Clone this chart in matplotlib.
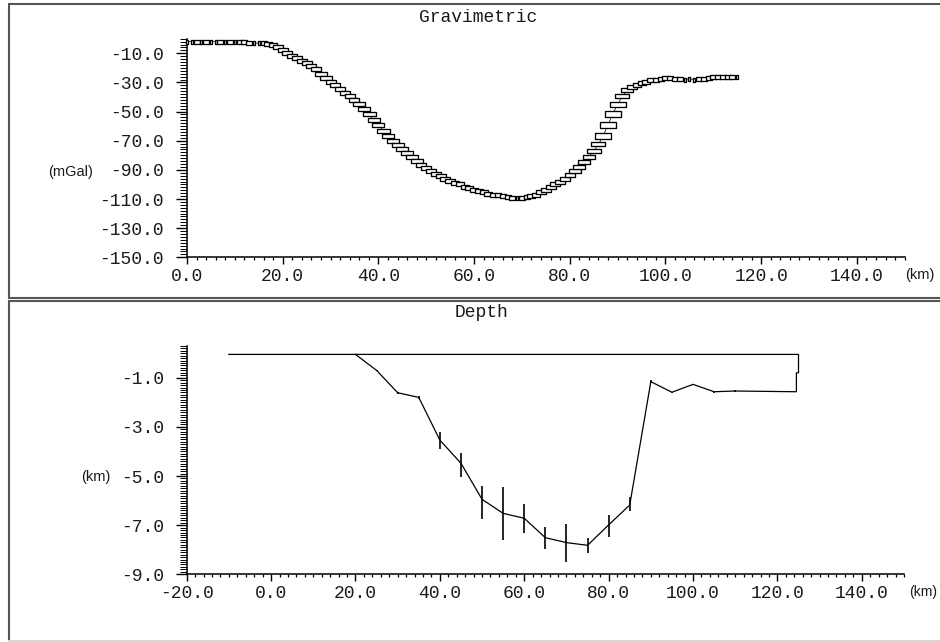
import numpy as np
import matplotlib
matplotlib.use("Agg")
import matplotlib.pyplot as plt
from matplotlib.path import Path
from matplotlib.lines import Line2D
from matplotlib.ticker import MultipleLocator, FormatStrFormatter

plt.rcParams['axes.unicode_minus'] = False

# ---------------- data ----------------
grav_x = [0, 1, 2, 3, 4, 5, 6, 7, 8, 9, 10, 11, 12,
          13, 14, 15, 16, 17, 18, 19,
          20, 21, 22, 23, 24, 25, 26, 27, 28, 29,
          30, 31, 32, 33, 34, 35, 36, 37, 38, 39,
          40, 41, 42, 43, 44, 45, 46, 47, 48, 49,
          50, 51, 52, 53, 54, 55, 56, 57, 58, 59,
          60, 61, 62, 63, 64, 65, 66, 67, 68, 69,
          70, 71, 72, 73, 74, 75, 76, 77, 78, 79,
          80, 81, 82, 83, 84, 85, 86, 87, 88, 89,
          90, 91, 92, 93, 94, 95, 96, 97, 98, 99,
          100, 101, 102, 103, 104, 105, 106, 107, 108, 109,
          110, 111, 112, 113, 114, 115]
grav_mgal = [-2.0, -2.0, -2.0, -2.5, -2.0, -2.0, -2.0, -2.0, -2.5, -2.0, -2.0, -2.0, -2.5,
             -3.0, -3.0, -3.0, -3.0, -3.5, -4.5, -6.0,
             -8.0, -10.0, -12.0, -13.5, -15.5, -17.0, -19.0, -21.0, -24.0, -27.0,
             -29.5, -32.0, -34.5, -37.0, -39.5, -42.0, -44.5, -48.0, -52.0, -56.0,
             -59.0, -63.0, -67.0, -70.0, -73.0, -75.5, -78.5, -81.0, -84.0, -86.5,
             -89.0, -91.0, -93.0, -94.5, -96.0, -97.5, -99.0, -100.0, -101.5, -102.5,
             -103.5, -104.5, -105.5, -106.5, -107.0, -107.5, -108.0, -108.5, -109.0, -109.0,
             -109.0, -108.5, -108.0, -107.0, -105.5, -104.0, -102.0, -100.0, -98.0, -96.0,
             -93.5, -91.0, -88.0, -84.5, -81.0, -77.0, -72.5, -66.5, -59.0, -51.5,
             -45.0, -39.5, -35.5, -33.0, -31.5, -30.5, -29.5, -28.5, -28.0, -27.5,
             -27.0, -27.0, -27.5, -27.5, -28.0, -27.5, -28.0, -27.5, -27.5, -27.0,
             -26.5, -26.5, -26.0, -26.0, -26.5, -26.5]

depth_x = [20, 25, 30, 35, 40, 45, 50, 55, 60, 65, 70, 75, 80, 85, 90, 95, 100, 105, 110]
depth_z = [0.0, -0.7, -1.61, -1.80, -3.54, -4.48, -5.95, -6.52, -6.72, -7.51,
           -7.71, -7.82, -6.99, -6.18, -1.16, -1.59, -1.27, -1.57, -1.54]
err_up = [0.0, 0.03, 0.05, 0.06, 0.34, 0.40, 0.54, 1.06, 0.58, 0.42,
          0.74, 0.28, 0.39, 0.31, 0.05, 0.03, 0.03, 0.05, 0.05]
err_dn = [0.0, 0.03, 0.05, 0.06, 0.37, 0.57, 0.81, 1.08, 0.59, 0.47,
          0.78, 0.33, 0.48, 0.23, 0.05, 0.03, 0.03, 0.05, 0.05]

surface_x = [-10, 125]
surface_z = [-0.05, -0.05]
edge_x = [125, 125, 124.5, 124.5]
edge_z = [-0.05, -0.8, -0.8, -1.57]

grav_xticks = [0, 20, 40, 60, 80, 100, 120, 140]
grav_yticks = [-150, -130, -110, -90, -70, -50, -30, -10]
depth_xticks = [-20, 0, 20, 40, 60, 80, 100, 120, 140]
depth_yticks = [-9, -7, -5, -3, -1]

# ---------------- figure ----------------
W, H = 940, 642
fig = plt.figure(figsize=(W / 100, H / 100), dpi=100)
fig.patch.set_facecolor('white')

MONO = 'Liberation Mono'
SANS = 'Liberation Sans'
TXT = '#1a1a1a'


def fx(px):
    return px / W


def fy(py):
    return 1 - py / H


def frame_line(x0, y0, x1, y1, color, lw):
    fig.add_artist(Line2D([fx(x0), fx(x1)], [fy(y0), fy(y1)], transform=fig.transFigure,
                          color=color, lw=lw, solid_capstyle='butt'))


# panel frames
dark = '#555555'
frame_line(8, 4.3, 945, 4.3, dark, 1.5)
frame_line(8.8, 4.3, 8.8, 297.5, dark, 1.5)
frame_line(8, 297.5, 945, 297.5, dark, 1.5)
frame_line(8, 301, 945, 301, dark, 1.5)
frame_line(9.3, 301, 9.3, 640, dark, 1.5)
frame_line(8, 640.5, 945, 640.5, '#d0d0d0', 1.2)


def style_axes(ax, ymin_step):
    for s in ('top', 'right'):
        ax.spines[s].set_visible(False)
    for s in ('left', 'bottom'):
        ax.spines[s].set_linewidth(1.1)
        ax.spines[s].set_color('black')
    ax.xaxis.set_minor_locator(MultipleLocator(2))
    ax.yaxis.set_minor_locator(MultipleLocator(ymin_step))
    ax.xaxis.set_major_formatter(FormatStrFormatter('%.1f'))
    ax.yaxis.set_major_formatter(FormatStrFormatter('%.1f'))
    ax.tick_params(axis='x', which='major', length=5, width=1.0, pad=2.5,
                   labelsize=13, labelcolor=TXT, direction='out')
    ax.tick_params(axis='x', which='minor', length=2.3, width=0.9, direction='out')
    ax.tick_params(axis='y', which='major', length=8, width=1.0, pad=8.5,
                   labelsize=13, labelcolor=TXT, direction='out')
    ax.tick_params(axis='y', which='minor', length=5, width=0.7, direction='out')
    for lab in ax.get_xticklabels() + ax.get_yticklabels():
        lab.set_fontfamily(MONO)
    ax.set_facecolor('none')


# ---------------- gravimetric panel ----------------
ax1 = fig.add_axes([fx(187), fy(257.3), fx(904.7 - 187), (257.3 - 38.7) / H])
ax1.set_xlim(0, 150)
ax1.set_ylim(-150, 0)
ax1.set_xticks(grav_xticks)
ax1.set_yticks(grav_yticks)
style_axes(ax1, 2)

gx = np.asarray(grav_x, dtype=float)
gy = np.asarray(grav_mgal, dtype=float)
ax1.plot(gx, gy, color='black', lw=0.5, zorder=2)
slope = np.abs(np.gradient(gy, gx))
for xi, yi, si in zip(gx, gy, slope):
    wpx = 3.0 + 5.0 * np.sqrt(si)
    hpx = 3.8 + 0.2 * si
    big = max(wpx, hpx)
    a, b = wpx / big, hpx / big
    verts = [(-a, -b), (a, -b), (a, b), (-a, b), (-a, -b)]
    mk = Path(verts, [Path.MOVETO, Path.LINETO, Path.LINETO, Path.LINETO, Path.CLOSEPOLY])
    ax1.plot([xi], [yi], marker=mk, ms=big * 0.72, mfc='white', mec='black',
             mew=0.95, ls='none', zorder=3, clip_on=False)

fig.text(fx(477.7), fy(17), 'Gravimetric', ha='center', va='center',
         family=MONO, fontsize=13, color=TXT)
fig.text(fx(93), fy(172), '(mGal)', ha='right', va='center',
         family=SANS, fontsize=10.5, color=TXT)
fig.text(fx(905), fy(275), '(km)', ha='left', va='center',
         family=SANS, fontsize=10.5, color=TXT)

# ---------------- depth panel ----------------
ax2 = fig.add_axes([fx(186.7), fy(574.3), fx(904 - 186.7), (574.3 - 345.8) / H])
ax2.set_xlim(-20, 150)
ax2.set_ylim(-9, 0.3)
ax2.set_xticks(depth_xticks)
ax2.set_yticks(depth_yticks)
style_axes(ax2, 0.1)

path_x = surface_x + edge_x + depth_x[::-1]
path_z = surface_z + edge_z + depth_z[::-1]
path_z[-1] = surface_z[0]
ax2.plot(path_x, path_z, color='black', lw=0.9, zorder=3, solid_joinstyle='miter')
ax2.errorbar(depth_x, depth_z, yerr=[err_dn, err_up], fmt='none', ecolor='black',
             elinewidth=1.2, capsize=0, zorder=3)

fig.text(fx(482), fy(312.7), 'Depth', ha='center', va='center',
         family=MONO, fontsize=13, color=TXT)
fig.text(fx(110), fy(477), '(km)', ha='right', va='center',
         family=SANS, fontsize=10.5, color=TXT)
fig.text(fx(909), fy(592), '(km)', ha='left', va='center',
         family=SANS, fontsize=10, color=TXT)

fig.savefig('out.png', dpi=100, facecolor='white')
